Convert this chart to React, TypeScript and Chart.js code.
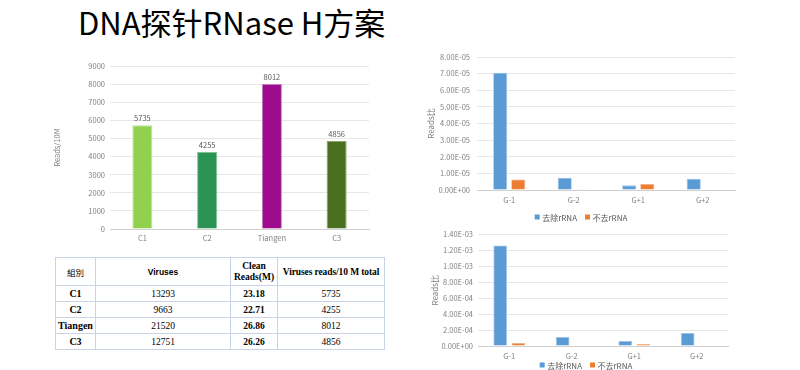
import React, { useEffect, useRef } from "react";
import { Chart, registerables } from "chart.js";

Chart.register(...registerables);

// ---------- data ----------
const titleText = "DNA探针RNase H方案";

const leftCategories = ["C1", "C2", "Tiangen", "C3"];
const leftValues = [5735, 4255, 8012, 4856];
const leftAxisTitle = "Reads/10M";

const groupCategories = ["G-1", "G-2", "G+1", "G+2"];
const seriesNames = ["去除rRNA", "不去rRNA"];
const topRemoved = [7.05e-5, 7.4e-6, 2.8e-6, 6.8e-6];
const topKept = [6.3e-6, 5e-7, 3.6e-6, 0];
const bottomRemoved = [1.263e-3, 1.12e-4, 6.2e-5, 1.62e-4];
const bottomKept = [3.7e-5, 0, 2.5e-5, 0];
const ratioAxisTitle = "Reads比";

const tableHeader = ["組別", "Viruses", "Clean Reads(M)", "Viruses reads/10 M total"];
const tableGroups = ["C1", "C2", "Tiangen", "C3"];
const tableViruses = [13293, 9663, 21520, 12751];
const tableClean = ["23.18", "22.71", "26.86", "26.26"];
const tableRate = [5735, 4255, 8012, 4856];

// ---------- styles ----------
const FONT = '"Noto Sans CJK SC", "Noto Sans", sans-serif';
const leftColors = ["#92d050", "#2b9354", "#9c0b8b", "#4a6f1f"];
const leftBorders = ["#c3e6a0", "#7cc095", "#c77bbd", "#8ba36e"];
const blue = "#5b9bd5";
const orange = "#ed7d31";
const gridColor = "#e6e6e6";
const tickColor = "#7f7f7f";

function sci(v: number): string {
  const s = Number(v).toExponential(2);
  const [m, e] = s.split("e");
  const n = parseInt(e, 10);
  const sign = n < 0 ? "-" : "+";
  const abs = Math.abs(n);
  return m + "E" + sign + (abs < 10 ? "0" + abs : String(abs));
}

function ChartBox(props: { config: any; left: number; top: number; width: number; height: number }) {
  const ref = useRef<HTMLCanvasElement | null>(null);
  useEffect(() => {
    if (!ref.current) return;
    const chart = new Chart(ref.current, props.config);
    return () => chart.destroy();
  }, []);
  return (
    <canvas
      ref={ref}
      width={props.width}
      height={props.height}
      style={{ position: "absolute", left: props.left, top: props.top, width: props.width, height: props.height, display: "block" }}
    />
  );
}

const valueLabelPlugin = {
  id: "valueLabels",
  afterDatasetsDraw(chart: any) {
    const ctx = chart.ctx;
    const meta = chart.getDatasetMeta(0);
    ctx.save();
    ctx.font = `7.5px ${FONT}`;
    ctx.fillStyle = "#595959";
    ctx.textAlign = "center";
    ctx.textBaseline = "alphabetic";
    meta.data.forEach((bar: any, i: number) => {
      ctx.fillText(String(chart.data.datasets[0].data[i]), bar.x, bar.y - 4);
    });
    ctx.restore();
  },
};

// legend drawn from the chart's own datasets, centred at a given canvas point
function legendPlugin(cx: number, cy: number) {
  return {
    id: "seriesLegend",
    afterDraw(chart: any) {
      const ctx = chart.ctx;
      ctx.save();
      ctx.font = `8px ${FONT}`;
      ctx.textBaseline = "middle";
      ctx.textAlign = "left";
      const box = 5;
      const gapText = 2.5;
      const gapItems = 8;
      const items = chart.data.datasets.map((ds: any) => ({ text: ds.label, color: ds.backgroundColor }));
      const widths = items.map((it: any) => box + gapText + ctx.measureText(it.text).width);
      const total = widths.reduce((a: number, b: number) => a + b, 0) + gapItems * (items.length - 1);
      let x = cx - total / 2;
      items.forEach((it: any, i: number) => {
        ctx.fillStyle = it.color;
        ctx.fillRect(x, cy - box / 2, box, box);
        ctx.fillStyle = "#595959";
        ctx.fillText(it.text, x + box + gapText, cy + 0.5);
        x += widths[i] + gapItems;
      });
      ctx.restore();
    },
  };
}

const leftConfig = {
  type: "bar",
  data: {
    labels: leftCategories,
    datasets: [
      {
        data: leftValues,
        backgroundColor: leftColors,
        borderColor: leftBorders,
        borderWidth: 1,
        barPercentage: 0.31,
        categoryPercentage: 1,
      },
    ],
  },
  options: {
    responsive: false,
    animation: false,
    devicePixelRatio: 1,
    layout: { padding: { top: 11, right: 11, left: 0, bottom: 0 } },
    plugins: { legend: { display: false }, tooltip: { enabled: false } },
    scales: {
      x: {
        afterFit: (s: any) => { s.height = 21; },
        grid: { display: false, drawTicks: false },
        border: { color: "#d0d0d0" },
        ticks: { color: tickColor, font: { family: FONT, size: 7.5 }, padding: 5 },
      },
      y: {
        min: 0,
        max: 9000,
        afterFit: (s: any) => { s.width = 70; },
        grid: { color: gridColor, drawTicks: false },
        border: { display: false },
        ticks: {
          stepSize: 1000,
          color: tickColor,
          font: { family: FONT, size: 7.5 },
          padding: 5,
          callback: (v: any) => String(v),
        },
        title: {
          display: true,
          text: leftAxisTitle,
          color: "#7f7f7f",
          font: { family: FONT, size: 7.5 },
          padding: { top: 13, bottom: 0 },
        },
      },
    },
  },
  plugins: [valueLabelPlugin],
};

function ratioConfig(
  removed: number[],
  kept: number[],
  max: number,
  step: number,
  opts: { yWidth: number; titlePad: number; tickPad: number; xHeight: number; pad: any; catPct: number; barPct: number; lx: number; ly: number }
) {
  return {
    type: "bar",
    data: {
      labels: groupCategories,
      datasets: [
        { label: seriesNames[0], data: removed, backgroundColor: blue, borderColor: "#9cc3e6", borderWidth: 0.8, categoryPercentage: opts.catPct, barPercentage: opts.barPct },
        { label: seriesNames[1], data: kept, backgroundColor: orange, borderColor: "#f4b183", borderWidth: 0.8, categoryPercentage: opts.catPct, barPercentage: opts.barPct },
      ],
    },
    options: {
      responsive: false,
      animation: false,
      devicePixelRatio: 1,
      layout: { padding: opts.pad },
      plugins: {
        tooltip: { enabled: false },
        legend: { display: false },
      },
      scales: {
        x: {
          afterFit: (s: any) => { s.height = opts.xHeight; },
          grid: { display: false, drawTicks: false },
          border: { color: "#d0d0d0" },
          ticks: { color: tickColor, font: { family: FONT, size: 7.5 }, padding: 6 },
        },
        y: {
          min: 0,
          max: max,
          afterFit: (s: any) => { s.width = opts.yWidth; },
          grid: { color: gridColor, drawTicks: false },
          border: { display: false },
          ticks: {
            stepSize: step,
            color: tickColor,
            font: { family: FONT, size: 7.5 },
            padding: opts.tickPad,
            callback: (v: any) => sci(Number(v)),
          },
          title: {
            display: true,
            text: ratioAxisTitle,
            color: "#7f7f7f",
            font: { family: FONT, size: 8 },
            padding: { top: opts.titlePad, bottom: 0 },
          },
        },
      },
    },
    plugins: [legendPlugin(opts.lx, opts.ly)],
  };
}

const topConfig = ratioConfig(topRemoved, topKept, 8e-5, 1e-5, {
  yWidth: 67,
  titlePad: 16,
  tickPad: 7,
  xHeight: 45,
  pad: { top: 17, right: 65, left: 0, bottom: 0 },
  catPct: 0.56,
  barPct: 0.78,
  lx: 171,
  ly: 177,
});

const bottomConfig = ratioConfig(bottomRemoved, bottomKept, 1.4e-3, 2e-4, {
  yWidth: 68,
  titlePad: 20,
  tickPad: 5,
  xHeight: 24,
  pad: { top: 9, right: 72, left: 0, bottom: 0 },
  catPct: 0.58,
  barPct: 0.75,
  lx: 176,
  ly: 140,
});

const cellBase: React.CSSProperties = {
  border: "1px solid #c8d4e6",
  textAlign: "center",
  padding: 0,
  color: "#000",
  fontFamily: '"Liberation Serif", "Times New Roman", serif',
  fontSize: 9.5,
  whiteSpace: "nowrap",
};

function DataTable() {
  const widths = [40, 135, 47, 107];
  return (
    <table
      style={{
        position: "absolute",
        left: 55,
        top: 257,
        width: 329,
        borderCollapse: "collapse",
        tableLayout: "fixed",
      }}
    >
      <colgroup>
        {widths.map((w, i) => (
          <col key={i} style={{ width: w }} />
        ))}
      </colgroup>
      <tbody>
        <tr style={{ height: 28 }}>
          <td style={{ ...cellBase, fontFamily: '"Noto Sans CJK TC", sans-serif', fontSize: 8.5 }}>{tableHeader[0]}</td>
          <td style={{ ...cellBase, fontFamily: '"Liberation Sans", Arial, sans-serif', fontWeight: "bold", fontSize: 8.5 }}>{tableHeader[1]}</td>
          <td style={{ ...cellBase, fontWeight: "bold", whiteSpace: "normal", lineHeight: "11px" }}>
            {tableHeader[2].split(" ")[0]}
            <br />
            {tableHeader[2].split(" ")[1]}
          </td>
          <td style={{ ...cellBase, fontWeight: "bold", letterSpacing: -0.1 }}>{tableHeader[3]}</td>
        </tr>
        {tableGroups.map((g, i) => (
          <tr key={g} style={{ height: 16 }}>
            <td style={{ ...cellBase, fontWeight: "bold", fontSize: 10 }}>{g}</td>
            <td style={cellBase}>{tableViruses[i]}</td>
            <td style={{ ...cellBase, fontWeight: "bold" }}>{tableClean[i]}</td>
            <td style={cellBase}>{tableRate[i]}</td>
          </tr>
        ))}
      </tbody>
    </table>
  );
}

export default function App() {
  return (
    <div
      style={{
        position: "absolute",
        left: 0,
        top: 0,
        width: 800,
        height: 370,
        overflow: "hidden",
        background: "#ffffff",
      }}
    >
      <div
        style={{
          position: "absolute",
          left: 78,
          top: 6,
          fontFamily: FONT,
          fontSize: 31,
          lineHeight: "31px",
          color: "#000",
          whiteSpace: "nowrap",
        }}
      >
        {titleText}
      </div>
      <ChartBox config={leftConfig} left={40} top={55} width={340} height={195} />
      <DataTable />
      <ChartBox config={topConfig} left={410} top={40} width={390} height={195} />
      <ChartBox config={bottomConfig} left={410} top={225} width={390} height={145} />
    </div>
  );
}
